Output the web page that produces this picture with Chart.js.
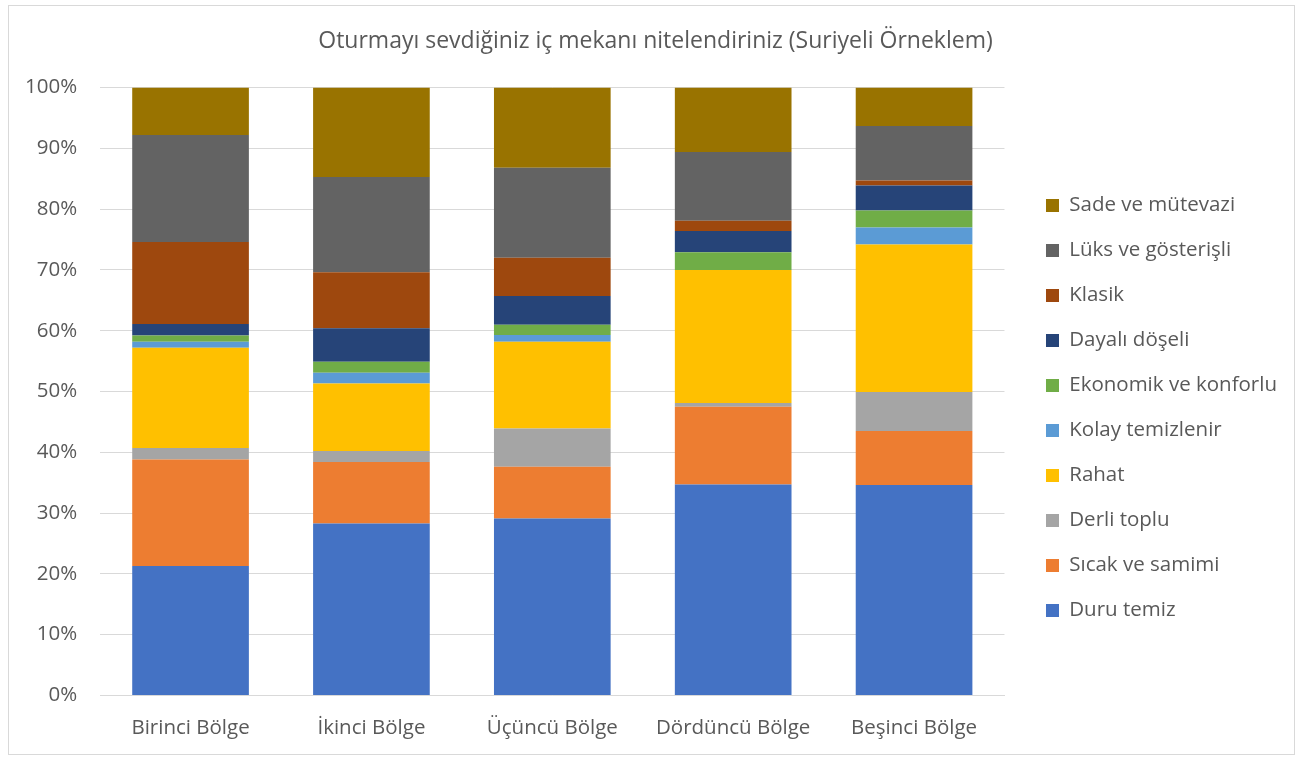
<!DOCTYPE html>
<html>
<head>
<meta charset="utf-8">
<script src="https://cdn.jsdelivr.net/npm/chart.js@4.4.0/dist/chart.umd.min.js"></script>
<style>
  html, body { margin: 0; padding: 0; background: #fff; }
  #frame { position: absolute; left: 8px; top: 5px; width: 1287px; height: 750px; border: 1px solid #d9d9d9; box-sizing: border-box; }
  canvas { display: block; }
</style>
</head>
<body>
<div id="frame"><canvas id="grafik"></canvas></div>
<script>
// Bölgeler
const bolgeler = ['Birinci Bölge', 'İkinci Bölge', 'Üçüncü Bölge', 'Dördüncü Bölge', 'Beşinci Bölge'];

// Yüzdeler (%), alttan üste
const duruTemiz      = [21.3, 28.3, 29.1, 34.7, 34.6];
const sicakSamimi    = [17.5, 10.1,  8.5, 12.8,  8.9];
const derliToplu     = [ 1.9,  1.8,  6.3,  0.6,  6.4];
const rahat          = [16.5, 11.1, 14.3, 21.9, 24.3];
const kolayTemiz     = [ 1.0,  1.8,  1.1,  0.0,  2.8];
const ekonomik       = [ 1.0,  1.8,  1.7,  2.9,  2.8];
const dayaliDoseli   = [ 1.9,  5.5,  4.7,  3.5,  4.1];
const klasik         = [13.5,  9.2,  6.3,  1.7,  0.8];
const luks           = [17.6, 15.7, 14.8, 11.3,  9.0];
const sade           = [ 7.8, 14.7, 13.2, 10.6,  6.3];

const yTicks = [0, 10, 20, 30, 40, 50, 60, 70, 80, 90, 100];

const yazi = '"Open Sans", sans-serif';
const gri = '#595959';
const legendBosluk = 17; // grafik ile lejant arasi ek bosluk

function seri(label, data, renk) {
    return { label: label, data: data, backgroundColor: renk, borderWidth: 0 };
}

// lejanti grafikten biraz uzaklastir, basligi biraz saga al
const lejantKaydir = {
    id: 'lejantKaydir',
    afterInit(chart) {
        const lg = chart.legend;
        const fit = lg.fit.bind(lg);
        lg.fit = function () { fit(); this.width += legendBosluk; };
    },
    afterLayout(chart) {
        chart.legend.left += legendBosluk;
        chart.titleBlock.left += 22;
    }
};

const ctx = document.getElementById('grafik').getContext('2d');
const grafik = new Chart(ctx, {
    type: 'bar',
    data: {
        labels: bolgeler,
        datasets: [
            seri('Duru temiz', duruTemiz, '#4472c4'),
            seri('Sıcak ve samimi', sicakSamimi, '#ed7d31'),
            seri('Derli toplu', derliToplu, '#a5a5a5'),
            seri('Rahat', rahat, '#ffc000'),
            seri('Kolay temizlenir', kolayTemiz, '#5b9bd5'),
            seri('Ekonomik ve konforlu', ekonomik, '#70ad47'),
            seri('Dayalı döşeli', dayaliDoseli, '#264478'),
            seri('Klasik', klasik, '#9e480e'),
            seri('Lüks ve gösterişli', luks, '#636363'),
            seri('Sade ve mütevazi', sade, '#997300')
        ]
    },
    plugins: [lejantKaydir],
    options: {
        responsive: true,
        maintainAspectRatio: false,
        animation: false,
        layout: { padding: { left: -7, right: 7, top: 0, bottom: 2 } },
        datasets: { bar: { categoryPercentage: 1.0, barPercentage: 0.645 } },
        plugins: {
            title: {
                display: true,
                text: 'Oturmayı sevdiğiniz iç mekanı nitelendiriniz (Suriyeli Örneklem)',
                color: gri,
                font: { family: yazi, size: 23, weight: 'normal' },
                padding: { top: 22, bottom: 32 }
            },
            legend: {
                position: 'right',
                reverse: true,
                title: { display: true, text: ' ', font: { size: 10 }, padding: { top: 0, bottom: 46 } },
                labels: {
                    color: gri,
                    font: { family: yazi, size: 20.5 },
                    boxWidth: 13,
                    boxHeight: 13,
                    padding: 24.5
                }
            },
            tooltip: { enabled: false }
        },
        scales: {
            x: {
                stacked: true,
                grid: { display: false },
                border: { color: '#d9d9d9' },
                ticks: { color: gri, font: { family: yazi, size: 20.5 }, padding: 12 }
            },
            y: {
                stacked: true,
                min: 0,
                max: 100,
                afterBuildTicks: function (axis) {
                    axis.ticks = yTicks.map(v => ({ value: v }));
                },
                grid: { color: '#d9d9d9', drawTicks: false },
                border: { display: false },
                ticks: {
                    color: gri,
                    font: { family: yazi, size: 20.5 },
                    padding: 23,
                    callback: v => v + '%'
                }
            }
        }
    }
});
</script>
</body>
</html>
